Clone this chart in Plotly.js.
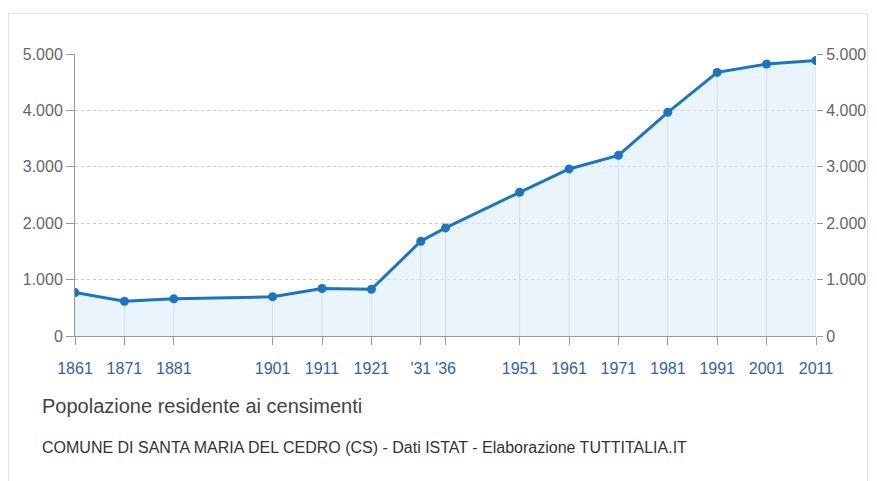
<!DOCTYPE html>
<html lang="it">
<head>
    <meta charset="UTF-8">
    <title>Popolazione residente ai censimenti</title>
    <script src="https://cdn.plot.ly/plotly-3.0.1.min.js"></script>
    <style>
        body { margin: 0; background: #ffffff; }
        #frame {
            position: absolute;
            left: 8px;
            top: 13px;
            width: 858px;
            height: 480px;
            border: 1px solid #e2e2e2;
            border-bottom: none;
        }
        #chart { position: absolute; left: 0; top: 0; width: 877px; height: 481px; }
    </style>
</head>
<body>
    <div id="frame"></div>
    <div id="chart"></div>

    <script>
        // anni dei censimenti e popolazione residente
        const anni = [1861, 1871, 1881, 1901, 1911, 1921, 1931, 1936, 1951, 1961, 1971, 1981, 1991, 2001, 2011];
        const popolazione = [770, 617, 659, 695, 842, 829, 1680, 1917, 2548, 2962, 3203, 3965, 4674, 4822, 4885];
        const etichetteAnni = ['1861', '1871', '1881', '1901', '1911', '1921', "'31", "'36", '1951', '1961', '1971', '1981', '1991', '2001', '2011'];
        const tickPopolazione = [0, 1000, 2000, 3000, 4000, 5000];

        const FONT = '"Liberation Sans", Arial, Helvetica, sans-serif';

        // linee verticali dal punto fino allo zero
        const xDrop = [];
        const yDrop = [];
        anni.forEach((a, i) => {
            xDrop.push(a, a, null);
            yDrop.push(0, popolazione[i], null);
        });

        const dropTrace = {
            x: xDrop,
            y: yDrop,
            type: 'scatter',
            mode: 'lines',
            line: { color: '#cfd2d8', width: 1 },
            hoverinfo: 'skip',
            showlegend: false
        };

        // sull'asse destro, cosi' viene disegnato sopra le linee verticali
        const popTrace = {
            x: anni,
            y: popolazione,
            yaxis: 'y2',
            type: 'scatter',
            mode: 'lines+markers',
            fill: 'tozeroy',
            fillcolor: 'rgba(215,235,250,0.55)',
            line: { color: '#1b74c5', width: 3 },
            marker: { color: '#1b74c5', size: 9 },
            showlegend: false
        };

        const yComune = {
            range: [0, 5000],
            tickvals: tickPopolazione,
            tickformat: ',d',
            ticks: 'outside',
            ticklen: 8,
            tickcolor: '#999999',
            tickfont: { family: FONT, size: 16, color: '#666666' },
            zeroline: false,
            fixedrange: true
        };

        const layout = {
            width: 877,
            height: 481,
            margin: { l: 75, r: 61, t: 54, b: 145 },
            paper_bgcolor: 'rgba(0,0,0,0)',
            plot_bgcolor: 'rgba(0,0,0,0)',
            separators: ',.',
            xaxis: {
                range: [1861, 2011],
                tickvals: anni,
                ticktext: etichetteAnni,
                tickangle: 0,
                showgrid: false,
                zeroline: false,
                showline: true,
                linecolor: '#999999',
                ticks: 'outside',
                ticklen: 8,
                tickcolor: '#999999',
                ticklabelstandoff: 10,
                tickfont: { family: FONT, size: 16, color: '#2f62b3' }
            },
            yaxis: Object.assign({}, yComune, {
                showgrid: true,
                gridcolor: '#c9c9c9',
                griddash: 'dot',
                showline: true,
                linecolor: '#999999'
            }),
            yaxis2: Object.assign({}, yComune, {
                overlaying: 'y',
                side: 'right',
                showgrid: false,
                showline: false,
                ticklen: 6
            }),
            annotations: [
                {
                    text: 'Popolazione residente ai censimenti',
                    xref: 'paper', yref: 'paper',
                    x: -0.047, y: -0.248,
                    xanchor: 'left', yanchor: 'middle',
                    showarrow: false,
                    font: { family: FONT, size: 20, color: '#444444' }
                },
                {
                    text: 'COMUNE DI SANTA MARIA DEL CEDRO (CS) - Dati ISTAT - Elaborazione TUTTITALIA.IT',
                    xref: 'paper', yref: 'paper',
                    x: -0.047, y: -0.397,
                    xanchor: 'left', yanchor: 'middle',
                    showarrow: false,
                    font: { family: FONT, size: 16, color: '#333333' }
                }
            ]
        };

        Plotly.newPlot('chart', [dropTrace, popTrace], layout, { displayModeBar: false, staticPlot: true });
    </script>
</body>
</html>
